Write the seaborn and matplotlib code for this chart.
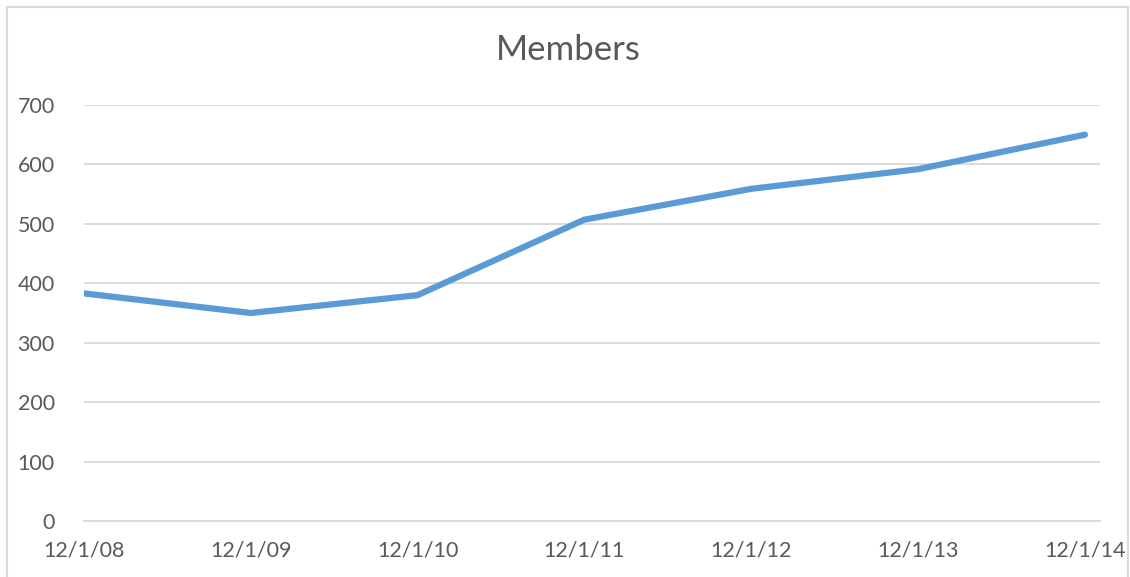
import pandas as pd
import matplotlib.pyplot as plt
import matplotlib.dates as mdates
from matplotlib.patches import Rectangle
import seaborn as sns

# === DATA ===
dates = ["2008-12-01", "2009-12-01", "2010-12-01", "2011-12-01",
         "2012-12-01", "2013-12-01", "2014-12-01"]
members = [383, 350, 380, 507, 559, 592, 650]
y_ticks = [0, 100, 200, 300, 400, 500, 600, 700]

TEXT = "#595959"
GRID = "#D9D9D9"
LINE = "#5B9BD5"


def make_chart():
    df = pd.DataFrame({"date": pd.to_datetime(dates), "members": members})

    sns.set_style("white")
    plt.rcParams["font.family"] = ["Lato", "DejaVu Sans"]

    fig = plt.figure(figsize=(11.3, 5.77), dpi=100)
    ax = fig.add_axes([84 / 1130, 1 - 521 / 577, (1100 - 84) / 1130, (521 - 105) / 577])

    # outer chart frame (Excel style)
    fig.patches.append(Rectangle((7 / 1130, -0.05), (1128 - 7) / 1130, 1.05 - 7 / 577,
                                 transform=fig.transFigure, fill=False,
                                 edgecolor=GRID, linewidth=1.5))

    sns.lineplot(data=df, x="date", y="members", ax=ax, color=LINE,
                 linewidth=4.5, solid_capstyle="round", solid_joinstyle="round")

    ax.set_ylim(0, 700)
    ax.set_yticks(y_ticks)
    ax.set_xlim(pd.Timestamp("2008-12-01"), pd.Timestamp("2015-01-03"))
    ax.set_xticks(df["date"])
    ax.xaxis.set_major_formatter(
        plt.FuncFormatter(lambda v, p: (lambda d: f"{d.month}/{d.day}/{d:%y}")(mdates.num2date(v))))

    ax.grid(axis="y", color=GRID, linewidth=1.3)
    ax.set_axisbelow(True)
    for side in ["top", "right", "left"]:
        ax.spines[side].set_visible(False)
    ax.spines["bottom"].set_color(GRID)
    ax.spines["bottom"].set_linewidth(1.3)

    ax.tick_params(axis="x", colors=GRID, length=7, width=1.3, direction="out",
                   labelcolor=TEXT, labelsize=15.5, pad=7)
    ax.tick_params(axis="y", length=0, labelcolor=TEXT, labelsize=15.5, pad=21)

    ax.set_xlabel("")
    ax.set_ylabel("")
    fig.text(568 / 1130, 1 - 50 / 577, "Members", ha="center", va="center",
             fontsize=25, color=TEXT)

    fig.savefig("out.png", dpi=100, facecolor="white")


if __name__ == "__main__":
    make_chart()
